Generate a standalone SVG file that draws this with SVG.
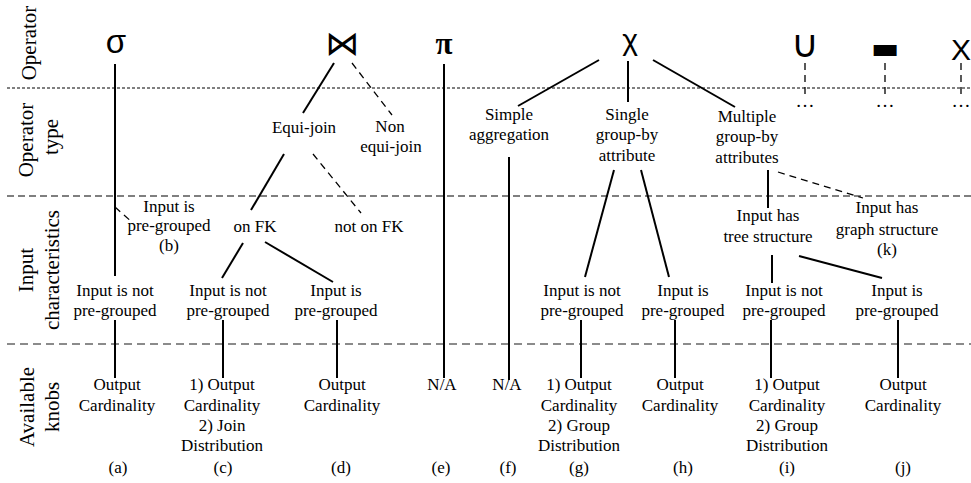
<svg xmlns="http://www.w3.org/2000/svg" width="971" height="483" viewBox="0 0 971 483">
<defs>
<style>
text{font-family:"Liberation Serif","Times New Roman",serif;font-size:17px;fill:#000;text-anchor:middle}
.row{font-size:21px}
.sym{font-family:"Liberation Sans",Arial,sans-serif}
.dv{font-family:"DejaVu Sans",sans-serif}
.dots{font-size:19px}
.s{stroke:#000;stroke-width:2;fill:none}
.d{stroke:#000;stroke-width:1.3;stroke-dasharray:7,5;fill:none}
</style>
</defs>
<rect width="971" height="483" fill="#fff"/>
<g id="separators">
<line x1="7" y1="88" x2="971" y2="88" stroke="#000" stroke-width="1" stroke-dasharray="3,2"/>
<line x1="7" y1="196" x2="971" y2="196" stroke="#000" stroke-width="1.2" stroke-dasharray="7,4"/>
<line x1="7" y1="344" x2="971" y2="344" stroke="#666" stroke-width="1.6" stroke-dasharray="8,5"/>
</g>
<g id="row-labels">
<text class="row" transform="translate(36,43) rotate(-90)">Operator</text>
<text class="row" transform="translate(33,140) rotate(-90)">Operator</text>
<text class="row" transform="translate(58,137) rotate(-90)">type</text>
<text class="row" transform="translate(33,270) rotate(-90)">Input</text>
<text class="row" transform="translate(59,270) rotate(-90)">characteristics</text>
<text class="row" transform="translate(34,407) rotate(-90)">Available</text>
<text class="row" transform="translate(59,407) rotate(-90)">knobs</text>
</g>
<g id="connectors">
<line class="s" x1="115" y1="64" x2="115" y2="276"/>
<line class="s" x1="115" y1="320" x2="115" y2="378"/>
<line class="d" x1="115" y1="207" x2="133" y2="223"/>
<line class="s" x1="334" y1="63" x2="303" y2="113"/>
<line class="d" x1="352" y1="63" x2="392" y2="115"/>
<line class="s" x1="284" y1="154" x2="251" y2="210"/>
<line class="d" x1="313" y1="154" x2="361" y2="213"/>
<line class="s" x1="243" y1="243" x2="222" y2="278"/>
<line class="s" x1="265" y1="242" x2="333" y2="282"/>
<line class="s" x1="223" y1="320" x2="223" y2="378"/>
<line class="s" x1="337" y1="320" x2="337" y2="378"/>
<line class="s" x1="444" y1="64" x2="444" y2="378"/>
<line class="s" x1="599" y1="60" x2="518" y2="106"/>
<line class="s" x1="628" y1="61" x2="628" y2="102"/>
<line class="s" x1="653" y1="60" x2="735" y2="107"/>
<line class="s" x1="509" y1="157" x2="509" y2="380"/>
<line class="s" x1="614" y1="170" x2="585" y2="277"/>
<line class="s" x1="641" y1="170" x2="669" y2="277"/>
<line class="s" x1="581" y1="320" x2="581" y2="378"/>
<line class="s" x1="675" y1="320" x2="675" y2="378"/>
<line class="s" x1="768" y1="170" x2="768" y2="208"/>
<line class="d" x1="778" y1="172" x2="863" y2="198"/>
<line class="s" x1="772" y1="255" x2="772" y2="283"/>
<line class="s" x1="799" y1="256" x2="882" y2="278"/>
<line class="s" x1="771" y1="320" x2="771" y2="378"/>
<line class="s" x1="898" y1="320" x2="898" y2="378"/>
<line class="d" x1="805" y1="63" x2="805" y2="98"/>
<line class="d" x1="885" y1="63" x2="885" y2="98"/>
<line class="d" x1="961" y1="63" x2="961" y2="98"/>
</g>
<g id="op-select"><text class="sym" x="116" y="53" style="font-size:33px">σ</text></g>
<g id="op-join"><text class="dv" x="342" y="55" style="font-size:34px">⋈</text></g>
<g id="op-project"><text x="444" y="54" style="font-size:31px;font-weight:bold">π</text></g>
<g id="op-aggregate"><text class="sym" x="630" y="50" style="font-size:30px">χ</text></g>
<g id="op-union"><text class="dv" x="805" y="57" style="font-size:38px">∪</text><text class="dots" x="805" y="107">…</text></g>
<g id="op-minus"><text class="dv" x="885" y="58" style="font-size:30px">▬</text><text class="dots" x="885" y="107">…</text></g>
<g id="op-cross"><text class="sym" x="961" y="60" style="font-size:30px">X</text><text class="dots" x="961" y="107">…</text></g>
<g id="n-equijoin"><text x="304" y="133">Equi-join</text></g>
<g id="n-nonequijoin"><text x="390" y="132">Non</text><text x="391" y="152">equi-join</text></g>
<g id="n-simpleagg"><text x="509" y="120">Simple</text><text x="509" y="140">aggregation</text></g>
<g id="n-single"><text x="627" y="120">Single</text><text x="627" y="140">group-by</text><text x="627" y="161">attribute</text></g>
<g id="n-multiple"><text x="747" y="122">Multiple</text><text x="747" y="142">group-by</text><text x="747" y="163">attributes</text></g>
<g id="n-b"><text x="169" y="212">Input is</text><text x="169" y="231">pre-grouped</text><text x="169" y="251">(b)</text></g>
<g id="n-onfk"><text x="255" y="232">on FK</text></g>
<g id="n-notonfk"><text x="369" y="232">not on FK</text></g>
<g id="n-tree"><text x="768" y="221">Input has</text><text x="768" y="242">tree structure</text></g>
<g id="n-k"><text x="887" y="213">Input has</text><text x="887" y="235">graph structure</text><text x="887" y="255">(k)</text></g>
<g id="in-a"><text x="115" y="296">Input is not</text><text x="115" y="316">pre-grouped</text></g>
<g id="in-c"><text x="228" y="296">Input is not</text><text x="228" y="316">pre-grouped</text></g>
<g id="in-d"><text x="336" y="296">Input is</text><text x="336" y="316">pre-grouped</text></g>
<g id="in-g"><text x="582" y="296">Input is not</text><text x="582" y="316">pre-grouped</text></g>
<g id="in-h"><text x="683" y="296">Input is</text><text x="683" y="316">pre-grouped</text></g>
<g id="in-i"><text x="784" y="296">Input is not</text><text x="784" y="316">pre-grouped</text></g>
<g id="in-j"><text x="897" y="296">Input is</text><text x="897" y="316">pre-grouped</text></g>
<g id="k-a"><text x="117" y="390">Output</text><text x="117" y="411">Cardinality</text><text x="118" y="473">(a)</text></g>
<g id="k-c"><text x="222" y="390">1) Output</text><text x="222" y="411">Cardinality</text><text x="222" y="431">2) Join</text><text x="222" y="451">Distribution</text><text x="223" y="473">(c)</text></g>
<g id="k-d"><text x="342" y="390">Output</text><text x="342" y="411">Cardinality</text><text x="341" y="473">(d)</text></g>
<g id="k-e"><text x="442" y="390">N/A</text><text x="441" y="473">(e)</text></g>
<g id="k-f"><text x="507" y="390">N/A</text><text x="508" y="473">(f)</text></g>
<g id="k-g"><text x="579" y="390">1) Output</text><text x="579" y="411">Cardinality</text><text x="579" y="431">2) Group</text><text x="579" y="451">Distribution</text><text x="579" y="473">(g)</text></g>
<g id="k-h"><text x="680" y="390">Output</text><text x="680" y="411">Cardinality</text><text x="683" y="473">(h)</text></g>
<g id="k-i"><text x="787" y="390">1) Output</text><text x="787" y="411">Cardinality</text><text x="787" y="431">2) Group</text><text x="787" y="451">Distribution</text><text x="787" y="473">(i)</text></g>
<g id="k-j"><text x="903" y="390">Output</text><text x="903" y="411">Cardinality</text><text x="903" y="473">(j)</text></g>
</svg>
